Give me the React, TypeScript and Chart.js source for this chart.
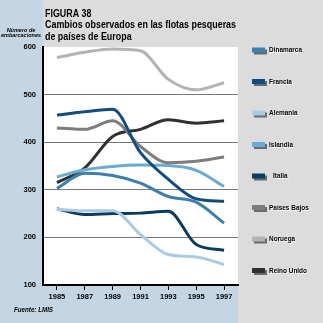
import React, { useEffect, useRef } from "react";
import { Chart, registerables } from "chart.js";
Chart.register(...registerables);

const years = ["1985", "1987", "1989", "1991", "1993", "1995", "1997"];
const dinamarca = [303, 335, 330, 314, 286, 274, 230];
const francia = [457, 464, 469, 378, 322, 281, 276];
const alemania = [259, 256, 256, 206, 164, 159, 143];
const islandia = [327, 342, 349, 352, 351, 341, 307];
const italia = [260, 248, 250, 251, 255, 185, 173];
const paisesBajos = [430, 427, 445, 391, 357, 360, 369];
const noruega = [578, 589, 596, 592, 532, 510, 525];
const reinoUnido = [315, 346, 412, 427, 447, 440, 445];

const seriesNames = ["Dinamarca", "Francia", "Alemania", "Islandia", "Italia", "Países Bajos", "Noruega", "Reino Unido"];
const seriesColors = ["#3e7fae", "#114c7c", "#a9cbe3", "#6aaad3", "#0c3b60", "#7d7d7d", "#b3b3b3", "#303030"];

const titleLines = ["FIGURA 38", "Cambios observados en las flotas pesqueras", "de países de Europa"];
const yAxisTitle = ["Número de", "embarcaciones"];
const sourceText = "Fuente: LMIS";

const SANS = "'Liberation Sans', Arial, sans-serif";

function narrowText(ctx: CanvasRenderingContext2D, text: string, x: number, y: number, sx: number) {
  ctx.save();
  ctx.translate(x, y);
  ctx.scale(sx, 1);
  ctx.fillText(text, 0, 0);
  ctx.restore();
}

export default function App() {
  const ref = useRef<HTMLCanvasElement>(null);
  useEffect(() => {
    document.body.style.margin = "0";
    const canvas = ref.current!;
    const values = [dinamarca, francia, alemania, islandia, italia, paisesBajos, noruega, reinoUnido];

    const bg = {
      id: "bg",
      beforeDraw(chart: any) {
        const { ctx, width, height, chartArea } = chart;
        ctx.save();
        ctx.fillStyle = "#dcdcdc";
        ctx.fillRect(0, 0, width, height);
        ctx.fillStyle = "#c4d6e4";
        ctx.fillRect(0, 0, chartArea.left, height);
        ctx.fillRect(0, chartArea.bottom, chartArea.right, height - chartArea.bottom);
        ctx.fillStyle = "#ffffff";
        ctx.fillRect(chartArea.left, chartArea.top, chartArea.right - chartArea.left, chartArea.bottom - chartArea.top);
        ctx.restore();
      },
    };

    const deco = {
      id: "deco",
      afterDraw(chart: any) {
        const { ctx, chartArea } = chart;
        ctx.save();
        // title
        ctx.fillStyle = "#000";
        ctx.textAlign = "left";
        ctx.textBaseline = "alphabetic";
        ctx.font = `bold 11.5px ${SANS}`;
        const titleScale = Math.min(1, 191 / ctx.measureText(titleLines[1]).width);
        const tb = [16.5, 28, 39.5];
        titleLines.forEach((t, i) => narrowText(ctx, t, chartArea.left + 2, tb[i], titleScale));
        // y axis title
        ctx.font = `italic bold 6px ${SANS}`;
        const ys = Math.min(1, 40 / ctx.measureText(yAxisTitle[1]).width);
        yAxisTitle.forEach((t, i) => {
          const w = ctx.measureText(t).width * ys;
          narrowText(ctx, t, 21 - w / 2, 31.5 + i * 5, ys);
        });
        // source
        ctx.font = `italic bold 7px ${SANS}`;
        const ss = Math.min(1, 39 / ctx.measureText(sourceText).width);
        narrowText(ctx, sourceText, 14, 312, ss);
        // legend
        const lx = 252;
        const ly0 = 50.5;
        const step = 31.5;
        ctx.font = `bold 7px ${SANS}`;
        ctx.textBaseline = "middle";
        const ls = Math.min(1, 33 / ctx.measureText(seriesNames[0]).width);
        chart.data.datasets.forEach((ds: any, i: number) => {
          const y = ly0 + i * step;
          ctx.fillStyle = "#6a6a6a";
          ctx.fillRect(lx + 2, y - 1, 13, 5);
          ctx.fillStyle = ds.borderColor;
          ctx.fillRect(lx, y - 3, 13, 5);
          const tx = lx + 17 + (ds.label === "Italia" ? 4 : 0);
          ctx.fillStyle = "#ffffff";
          narrowText(ctx, ds.label, tx + 0.8, y + 0.8, ls);
          ctx.fillStyle = "#000";
          narrowText(ctx, ds.label, tx, y, ls);
        });
        ctx.restore();
      },
    };

    const chart = new Chart(canvas, {
      type: "line",
      data: {
        labels: years,
        datasets: seriesNames.map((n, i) => ({
          label: n,
          data: values[i],
          borderColor: seriesColors[i],
          backgroundColor: seriesColors[i],
          borderWidth: 3,
          pointRadius: 0,
          tension: 0.4,
          cubicInterpolationMode: "monotone" as const,
          fill: false,
        })),
      },
      options: {
        responsive: false,
        animation: false,
        devicePixelRatio: 1,
        layout: { padding: { top: 47, right: 85, left: 0, bottom: 0 } },
        plugins: { legend: { display: false }, tooltip: { enabled: false }, title: { display: false } },
        scales: {
          x: {
            offset: true,
            grid: { display: true, drawOnChartArea: false, drawTicks: true, tickLength: 5, color: "#000", offset: false },
            border: { display: true, color: "#000", width: 2 },
            ticks: { color: "#000", font: { family: SANS, size: 7.5, weight: "bold" }, padding: 2, maxRotation: 0, autoSkip: false },
            afterFit(s: any) { s.height = 38; },
          },
          y: {
            min: 100,
            max: 600,
            ticks: { stepSize: 100, color: "#000", font: { family: SANS, size: 7.5, weight: "bold" }, padding: 7 },
            grid: {
              color: (c: any) => (c.tick && (c.tick.value === 100 || c.tick.value === 600) ? "rgba(0,0,0,0)" : "#777777"),
              lineWidth: 1,
              drawTicks: false,
            },
            border: { color: "#000", width: 2 },
            afterFit(s: any) { s.width = 43; },
          },
        },
      },
      plugins: [bg, deco],
    });
    return () => chart.destroy();
  }, []);
  return (
    <div style={{ position: "fixed", left: 0, top: 0 }}>
      <canvas ref={ref} width={323} height={323} style={{ width: 323, height: 323, display: "block" }} />
    </div>
  );
}
